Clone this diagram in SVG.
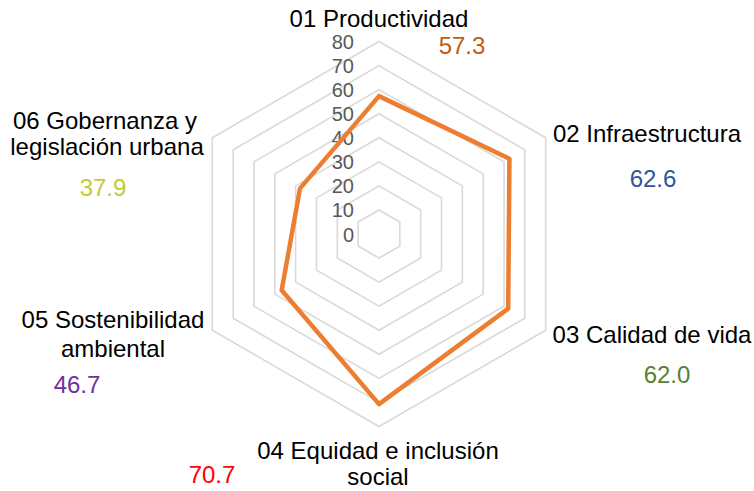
<svg xmlns="http://www.w3.org/2000/svg" width="754" height="491" viewBox="0 0 754 491">
<style>
.grid{fill:none;stroke:#D9D9D9;stroke-width:1.6}
.data{fill:none;stroke:#ED7D31;stroke-width:4.5;stroke-linejoin:round}
.ax{font-family:"Liberation Sans",Arial,sans-serif;font-size:20px;fill:#595959;text-anchor:end}
.cat{font-family:"Liberation Sans",Arial,sans-serif;font-size:24px;fill:#000;text-anchor:middle}
.val{font-family:"Liberation Sans",Arial,sans-serif;font-size:24px;text-anchor:middle}
</style>
<rect width="754" height="491" fill="#fff"/>
<g id="grid">
<polygon class="grid" points="379,209.94 399.84,221.97 399.84,246.03 379,258.06 358.16,246.03 358.16,221.97"/>
<polygon class="grid" points="379,185.88 420.67,209.94 420.67,258.06 379,282.12 337.33,258.06 337.33,209.94"/>
<polygon class="grid" points="379,161.82 441.51,197.91 441.51,270.09 379,306.18 316.49,270.09 316.49,197.91"/>
<polygon class="grid" points="379,137.76 462.35,185.88 462.35,282.12 379,330.24 295.65,282.12 295.65,185.88"/>
<polygon class="grid" points="379,113.7 483.18,173.85 483.18,294.15 379,354.3 274.82,294.15 274.82,173.85"/>
<polygon class="grid" points="379,89.64 504.02,161.82 504.02,306.18 379,378.36 253.98,306.18 253.98,161.82"/>
<polygon class="grid" points="379,65.58 524.85,149.79 524.85,318.21 379,402.42 233.15,318.21 233.15,149.79"/>
<polygon class="grid" points="379,41.52 545.69,137.76 545.69,330.24 379,426.48 212.31,330.24 212.31,137.76"/>
</g>
<g id="axis-labels">
<text class="ax" x="354" y="241.5">0</text>
<text class="ax" x="354" y="217.4">10</text>
<text class="ax" x="354" y="193.4">20</text>
<text class="ax" x="354" y="169.3">30</text>
<text class="ax" x="354" y="145.3">40</text>
<text class="ax" x="354" y="121.2">50</text>
<text class="ax" x="354" y="97.1">60</text>
<text class="ax" x="354" y="73.1">70</text>
<text class="ax" x="354" y="49">80</text>
</g>
<g id="series">
<polygon class="data" points="379,96.14 509.44,158.69 508.19,308.59 379,404.1 281.69,290.18 300.03,188.41"/>
</g>
<g id="cat01">
<text class="cat" x="379" y="27">01 Productividad</text>
<text class="val" x="462" y="54" fill="#C55A11">57.3</text>
</g>
<g id="cat02">
<text class="cat" x="647" y="142">02 Infraestructura</text>
<text class="val" x="653" y="187" fill="#2F5597">62.6</text>
</g>
<g id="cat03">
<text class="cat" x="652" y="343">03 Calidad de vida</text>
<text class="val" x="667" y="383" fill="#538135">62.0</text>
</g>
<g id="cat04">
<text class="cat" x="378" y="459">04 Equidad e inclusión</text>
<text class="cat" x="378" y="485">social</text>
<text class="val" x="212" y="483" fill="#FF0000">70.7</text>
</g>
<g id="cat05">
<text class="cat" x="113" y="328">05 Sostenibilidad</text>
<text class="cat" x="113" y="357">ambiental</text>
<text class="val" x="77" y="393" fill="#7030A0">46.7</text>
</g>
<g id="cat06">
<text class="cat" x="105" y="129">06 Gobernanza y</text>
<text class="cat" x="107" y="155">legislación urbana</text>
<text class="val" x="103" y="196" fill="#C3CB36">37.9</text>
</g>
</svg>
